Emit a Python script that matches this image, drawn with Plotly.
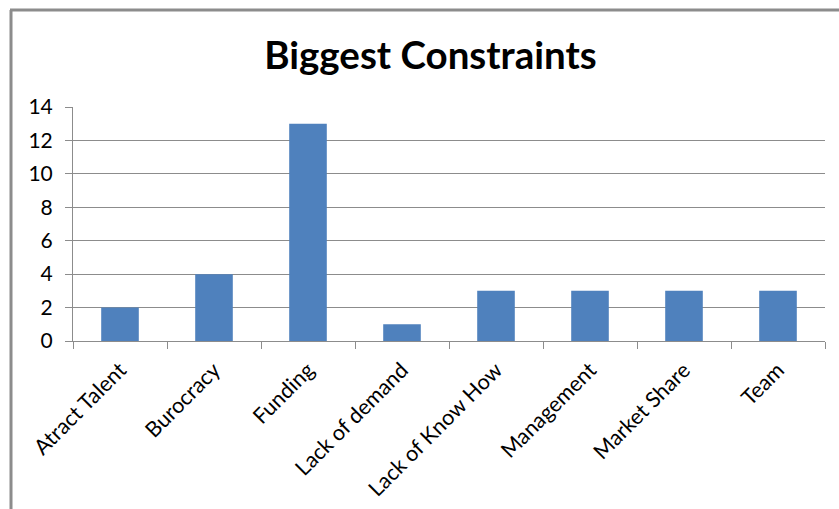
import plotly.graph_objects as go

categories = ["Atract Talent", "Burocracy", "Funding", "Lack of demand",
              "Lack of Know How", "Management", "Market Share", "Team"]
counts = [2, 4, 13, 1, 3, 3, 3, 3]
y_ticks = [0, 2, 4, 6, 8, 10, 12, 14]

W, H = 839, 509
L, R, T, B = 73, 14, 107, 168
pw, ph = W - L - R, H - T - B


def px_x(x):
    return (x - L) / pw


def px_y(y):
    return (H - B - y) / ph


fig = go.Figure(go.Bar(
    x=categories, y=counts,
    marker=dict(color="#4F81BD", line=dict(width=0)),
))

grey = "#8C8C8C"
fig.update_layout(
    width=W, height=H,
    margin=dict(l=L, r=R, t=T, b=B),
    paper_bgcolor="white", plot_bgcolor="white",
    bargap=0.6,
    showlegend=False,
    font=dict(family="Lato, Open Sans, sans-serif", color="#000000"),
    title=dict(text="<b>Biggest Constraints</b>", x=px_x(430.5),
               xanchor="center", y=1 - 56 / H, yanchor="middle",
               xref="paper", yref="container",
               font=dict(size=38.5, family="Lato, Open Sans, sans-serif", color="#000000")),
    xaxis=dict(
        type="category", tickson="boundaries", ticks="outside", ticklen=7,
        tickcolor=grey, tickwidth=1, tickangle=-45,
        showline=True, linecolor=grey, linewidth=1,
        showgrid=False, tickfont=dict(size=21.5), ticklabelstandoff=7,
        automargin=False,
    ),
    yaxis=dict(
        range=[0, 14], tickvals=y_ticks, ticks="outside", ticklen=7,
        tickcolor=grey, tickwidth=1,
        showline=True, linecolor=grey, linewidth=1,
        showgrid=True, gridcolor=grey, gridwidth=1, zeroline=False,
        tickfont=dict(size=21), ticklabelstandoff=8,
        automargin=False,
    ),
    shapes=[
        # chart area frame (left and top edges)
        dict(type="line", xref="paper", yref="paper",
             x0=px_x(11), x1=px_x(11), y0=px_y(10), y1=px_y(H + 5),
             line=dict(color=grey, width=3)),
        dict(type="line", xref="paper", yref="paper",
             x0=px_x(10), x1=px_x(W + 5), y0=px_y(10), y1=px_y(10),
             line=dict(color=grey, width=3)),
    ],
)

fig.write_html("out.html")
